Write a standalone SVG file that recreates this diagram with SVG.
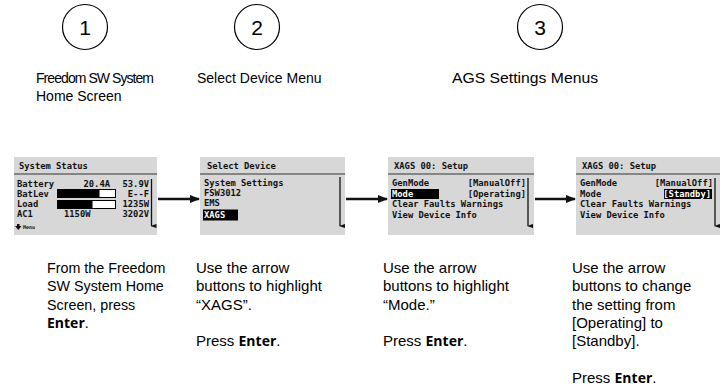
<svg xmlns="http://www.w3.org/2000/svg" width="723" height="389" viewBox="0 0 723 389">
<defs>
<style>
.bg{fill:#ffffff}
.num{font-family:"Liberation Sans",Arial,sans-serif;font-size:21px;fill:#000;text-anchor:middle}
.circ{fill:none;stroke:#000;stroke-width:1.2}
.ttl{font-family:"Liberation Sans",Arial,sans-serif;font-size:14px;fill:#000}
.desc{font-family:"Liberation Sans",Arial,sans-serif;font-size:15px;fill:#000}
.d1{font-size:14.3px}
.b{font-family:"Open Sans","Liberation Sans",sans-serif;font-weight:bold;font-size:14px}
.scr{fill:#d7d7d7}
.hl{stroke:#333;stroke-width:1}
.lcd{font-family:"DejaVu Sans Mono",monospace;font-weight:bold;font-size:8.8px;fill:#111}
.lcdw{font-family:"DejaVu Sans Mono",monospace;font-weight:bold;font-size:8.8px;fill:#fff}
.end{text-anchor:end}
.scroll{stroke:#111;stroke-width:1.3;fill:none}
.conn{stroke:#111;stroke-width:2.6;fill:none;marker-end:url(#ah)}
</style>
<marker id="ah" markerWidth="10" markerHeight="8" refX="9" refY="4" orient="auto" markerUnits="userSpaceOnUse">
<polygon points="0,0 10,4 0,8" fill="#111"/>
</marker>
<marker id="sa" markerWidth="4" markerHeight="6" refX="2" refY="5" orient="auto-start-reverse" markerUnits="userSpaceOnUse">
<polygon points="0,0 4,0 2,6" fill="#111"/>
</marker>
</defs>
<rect class="bg" x="0" y="0" width="723" height="389"/>

<g id="step1">
<circle class="circ" cx="85" cy="27" r="22.5"/>
<text class="num" x="85" y="35">1</text>
<text class="ttl" x="36" y="83" textLength="118" lengthAdjust="spacing">Freedom SW System</text>
<text class="ttl" x="36" y="101">Home Screen</text>
</g>
<g id="step2">
<circle class="circ" cx="257" cy="27" r="22.5"/>
<text class="num" x="257" y="35">2</text>
<text class="ttl" x="197" y="83">Select Device Menu</text>
</g>
<g id="step3">
<circle class="circ" cx="540" cy="27" r="22.5"/>
<text class="num" x="540" y="35">3</text>
<text class="ttl" x="452" y="83" textLength="146" lengthAdjust="spacingAndGlyphs">AGS Settings Menus</text>
</g>

<g id="screen1">
<rect class="scr" x="14" y="157" width="143" height="78"/>
<text class="lcd" x="19" y="169">System Status</text>
<line class="hl" x1="14" y1="174" x2="157" y2="174"/>
<text class="lcd" x="17" y="187">Battery</text>
<text class="lcd end" x="110" y="187">20.4A</text>
<text class="lcd end" x="149" y="187">53.9V</text>
<text class="lcd" x="17" y="197">BatLev</text>
<rect x="57" y="189" width="42" height="9" fill="#000"/>
<rect x="99" y="189.5" width="16.5" height="8" fill="#fff" stroke="#000" stroke-width="1"/>
<text class="lcd end" x="149" y="197">E--F</text>
<text class="lcd" x="17" y="207">Load</text>
<rect x="57" y="200" width="35" height="9" fill="#000"/>
<rect x="92" y="200.5" width="23.5" height="8" fill="#fff" stroke="#000" stroke-width="1"/>
<text class="lcd end" x="149" y="207">1235W</text>
<text class="lcd" x="17" y="217">AC1</text>
<text class="lcd" x="64" y="217">1150W</text>
<text class="lcd end" x="149" y="217">3202V</text>
<polygon points="17,224 19.5,224 19.5,226 21.5,226 18.3,230 15,226 17,226" fill="#111"/>
<text x="23" y="229" font-family="DejaVu Sans Mono,monospace" font-weight="bold" font-size="5px" fill="#111">Menu</text>
<line class="scroll" x1="151.5" y1="179" x2="151.5" y2="226" marker-end="url(#sa)"/>
</g>

<g id="screen2">
<rect class="scr" x="200" y="157" width="145" height="78"/>
<text class="lcd" x="207" y="169">Select Device</text>
<line class="hl" x1="200" y1="174" x2="345" y2="174"/>
<text class="lcd" x="204" y="186">System Settings</text>
<text class="lcd" x="204" y="196">FSW3012</text>
<text class="lcd" x="204" y="206">EMS</text>
<rect x="203" y="209.5" width="35" height="11" fill="#000"/>
<text class="lcdw" x="204" y="218">XAGS</text>
<line class="scroll" x1="340" y1="177" x2="340" y2="226" marker-end="url(#sa)"/>
</g>

<g id="screen3">
<rect class="scr" x="388" y="157" width="146" height="78"/>
<text class="lcd" x="394" y="169">XAGS 00: Setup</text>
<line class="hl" x1="388" y1="174" x2="534" y2="174"/>
<text class="lcd" x="392" y="186">GenMode</text>
<text class="lcd end" x="526" y="186">[ManualOff]</text>
<rect x="391" y="189" width="48" height="10" fill="#000"/>
<text class="lcdw" x="392" y="197">Mode</text>
<text class="lcd end" x="526" y="197">[Operating]</text>
<text class="lcd" x="392" y="207">Clear Faults Warnings</text>
<text class="lcd" x="392" y="218">View Device Info</text>
<line class="scroll" x1="528" y1="178" x2="528" y2="226" marker-end="url(#sa)"/>
</g>

<g id="screen4">
<rect class="scr" x="576" y="157" width="144" height="78"/>
<text class="lcd" x="582" y="169">XAGS 00: Setup</text>
<line class="hl" x1="576" y1="174" x2="720" y2="174"/>
<text class="lcd" x="580" y="186">GenMode</text>
<text class="lcd end" x="713" y="186">[ManualOff]</text>
<text class="lcd" x="580" y="197">Mode</text>
<rect x="664" y="189" width="48" height="10" fill="#000"/>
<text class="lcdw end" x="711" y="197">[Standby]</text>
<text class="lcd" x="580" y="207">Clear Faults Warnings</text>
<text class="lcd" x="580" y="218">View Device Info</text>
<line class="scroll" x1="715" y1="178" x2="715" y2="226" marker-end="url(#sa)"/>
</g>

<g id="connectors">
<line class="conn" x1="158" y1="199" x2="199" y2="199"/>
<line class="conn" x1="346" y1="199" x2="387" y2="199"/>
<line class="conn" x1="535" y1="199" x2="575" y2="199"/>
</g>

<g id="desc1">
<text class="desc d1" x="47" y="273">From the Freedom</text>
<text class="desc d1" x="47" y="291">SW System Home</text>
<text class="desc d1" x="47" y="310">Screen, press</text>
<text class="desc d1" x="47" y="328"><tspan class="b">Enter</tspan>.</text>
</g>
<g id="desc2">
<text class="desc" x="196" y="273">Use the arrow</text>
<text class="desc" x="196" y="291">buttons to highlight</text>
<text class="desc" x="196" y="310">“XAGS”.</text>
<text class="desc" x="196" y="346">Press <tspan class="b">Enter</tspan>.</text>
</g>
<g id="desc3">
<text class="desc" x="383" y="273">Use the arrow</text>
<text class="desc" x="383" y="291">buttons to highlight</text>
<text class="desc" x="383" y="310">“Mode.”</text>
<text class="desc" x="383" y="346">Press <tspan class="b">Enter</tspan>.</text>
</g>
<g id="desc4">
<text class="desc" x="572" y="273">Use the arrow</text>
<text class="desc" x="572" y="291">buttons to change</text>
<text class="desc" x="572" y="310">the setting from</text>
<text class="desc" x="572" y="328">[Operating] to</text>
<text class="desc" x="572" y="346">[Standby].</text>
<text class="desc" x="572" y="383">Press <tspan class="b">Enter</tspan>.</text>
</g>
</svg>
